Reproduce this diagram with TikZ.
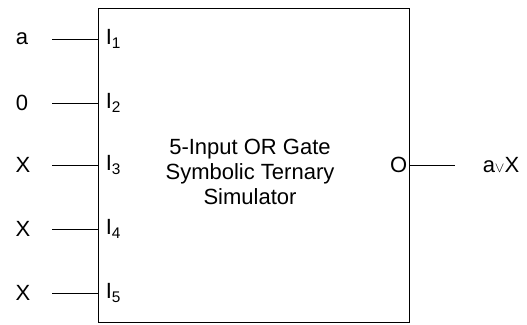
\documentclass[tikz,border=0pt]{standalone}
\usepackage{fontspec}
\setmainfont{Liberation Sans}
\usetikzlibrary{positioning}

\begin{document}
\begin{tikzpicture}[x=1pt, y=-1pt, font=\fontsize{22}{25}\selectfont,
  wire/.style={line width=0.8pt},
  sig/.style={inner sep=0pt},
  pin/.style={anchor=west, inner sep=0pt, xshift=8pt}]
\useasboundingbox (0,0) rectangle (527,324);
% simulator block
\node[draw, wire, minimum width=311pt, minimum height=314pt, inner sep=0pt] (sim) at (253.5,165) {};
\node[align=center, inner sep=0pt] (title) at (250,172) {5-Input OR Gate\\Symbolic Ternary\\Simulator};
% inputs
\node[sig] (v1) at (22,39) {a};
\node[sig] (v2) at (22,103) {0};
\node[sig] (v3) at (23,165) {X};
\node[sig] (v4) at (23,229) {X};
\node[sig] (v5) at (23,293) {X};
\node[pin] (i1) at (sim.west |- v1) {I\textsubscript{1}};
\node[pin] (i2) at (sim.west |- v2) {I\textsubscript{2}};
\node[pin] (i3) at (sim.west |- v3) {I\textsubscript{3}};
\node[pin] (i4) at (sim.west |- v4) {I\textsubscript{4}};
\node[pin] (i5) at (sim.west |- v5) {I\textsubscript{5}};
\coordinate (w1) at (52,39);
\coordinate (w2) at (52,103);
\coordinate (w3) at (52,165);
\coordinate (w4) at (52,229);
\coordinate (w5) at (52,293);
\draw[wire] (w1) -- (sim.west |- w1);
\draw[wire] (w2) -- (sim.west |- w2);
\draw[wire] (w3) -- (sim.west |- w3);
\draw[wire] (w4) -- (sim.west |- w4);
\draw[wire] (w5) -- (sim.west |- w5);
% output
\node[anchor=east, inner sep=0pt, xshift=-2pt] (o) at (sim.east |- 0,165) {O};
\node[sig] (res) at (501,165) {a$\scriptstyle\vee$X};
\coordinate (wo) at (455,165);
\draw[wire] (sim.east |- wo) -- (wo);
\end{tikzpicture}
\end{document}
